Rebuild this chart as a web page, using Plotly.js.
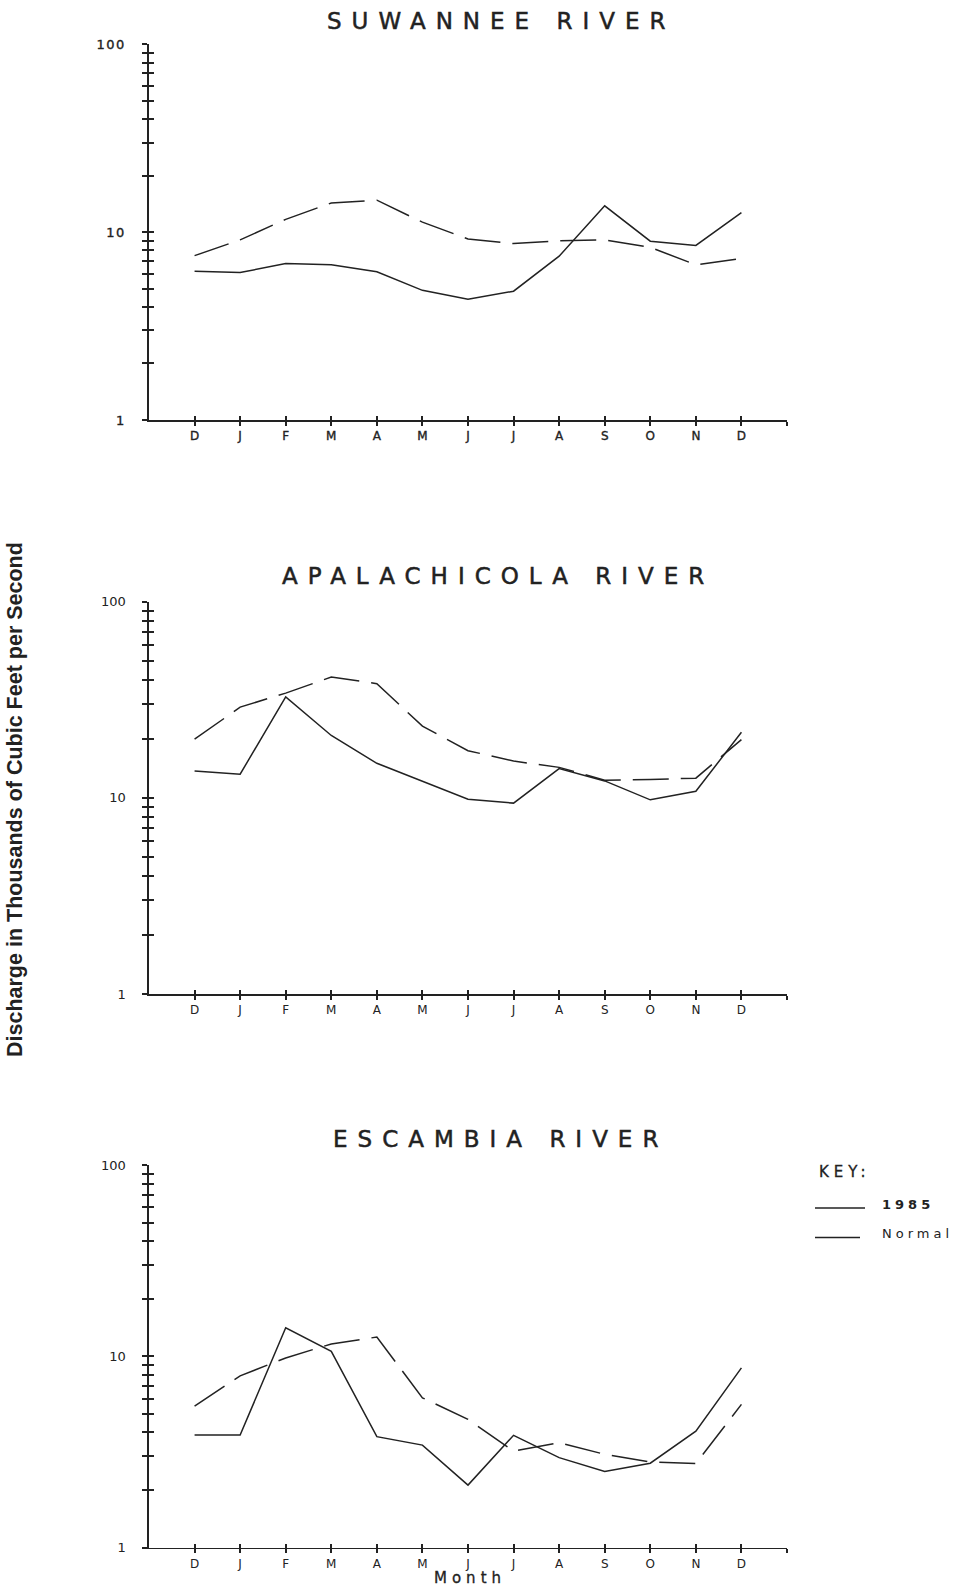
<!DOCTYPE html>
<html>
<head>
<meta charset="utf-8">
<script src="https://cdn.plot.ly/plotly-3.0.1.min.js"></script>
<style>
  html, body { margin: 0; padding: 0; background: #fff; }
  #chart { width: 960px; height: 1588px; }
  .ytick text { letter-spacing: 1.5px; stroke: #222; stroke-width: 0.35px; }
  .xtick text { stroke: #222; stroke-width: 0.35px; }
</style>
</head>
<body>
<div id="chart"></div>
<script>
// Month labels along the bottom of each river panel (Dec 1984 .. Dec 1985)
const months = ['D', 'J', 'F', 'M', 'A', 'M', 'J', 'J', 'A', 'S', 'O', 'N', 'D'];

// Monthly mean discharge, thousands of cubic feet per second
const suwannee1985       = [6.2, 6.1, 6.8, 6.7, 6.15, 4.9, 4.4, 4.85, 7.45, 13.8, 8.95, 8.5, 12.7];
const suwanneeNormal     = [7.5, 9.1, 11.7, 14.3, 14.8, 11.3, 9.2, 8.7, 9.0, 9.1, 8.3, 6.7, 7.25];
const apalachicola1985   = [13.7, 13.2, 32.7, 20.8, 15.0, 12.1, 9.85, 9.4, 14.1, 12.2, 9.77, 10.8, 21.6];
const apalachicolaNormal = [19.9, 29, 34.2, 41.3, 38.2, 23.2, 17.4, 15.4, 14.3, 12.3, 12.4, 12.6, 19.8];
const escambia1985       = [3.87, 3.87, 14.1, 10.6, 3.8, 3.43, 2.12, 3.86, 2.95, 2.5, 2.76, 4.06, 8.7];
const escambiaNormal     = [5.48, 7.9, 9.8, 11.6, 12.6, 6.06, 4.68, 3.19, 3.53, 3.07, 2.8, 2.75, 5.6];

// Log-scale tick marks: every integer step within each decade
const yTickValues = [1, 2, 3, 4, 5, 6, 7, 8, 9, 10, 20, 30, 40, 50, 60, 70, 80, 90, 100];
const yTickLabels = ['1', '', '', '', '', '', '', '', '', '10', '', '', '', '', '', '', '', '', '100'];

const seriesNames = ['1985', 'Normal'];
const riverTitles = ['SUWANNEE RIVER', 'APALACHICOLA RIVER', 'ESCAMBIA RIVER'];
const riverData = [
  [suwannee1985, suwanneeNormal],
  [apalachicola1985, apalachicolaNormal],
  [escambia1985, escambiaNormal]
];

const W = 960, H = 1588;
const px = x => x / W;
const py = y => 1 - y / H;

const INK = '#222222';
const plotFont = 'DejaVu Sans, sans-serif';

// Pixel frame of each panel: top (value 100) and bottom (value 1)
const frames = [
  { top: 44.3,  bottom: 420,    titleX: 501, titleY: 21 },
  { top: 601.7, bottom: 994,    titleX: 498, titleY: 576 },
  { top: 1165,  bottom: 1547.5, titleX: 500, titleY: 1139 }
];
const xLeft = 149, xRight = 787;

const monthIndex = months.map((_, i) => i);
const xTickVals = monthIndex.concat([months.length]);
const xTickText = months.concat(['']);

const traces = [];
const layout = {
  width: W, height: H,
  margin: { l: 0, r: 0, t: 0, b: 0 },
  paper_bgcolor: '#fff', plot_bgcolor: 'rgba(0,0,0,0)',
  showlegend: false,
  font: { family: plotFont, color: INK },
  annotations: [],
  shapes: []
};

frames.forEach((f, i) => {
  const n = i + 1, o = i + 4;
  const xs = n === 1 ? '' : String(n);
  const xName = 'x' + xs, yName = 'y' + xs;

  const [s1985, sNormal] = riverData[i];
  traces.push({
    x: monthIndex, y: s1985, name: seriesNames[0], type: 'scatter', mode: 'lines',
    xaxis: xName, yaxis: yName,
    line: { color: INK, width: 1.5 }
  });
  traces.push({
    x: monthIndex, y: sNormal, name: seriesNames[1], type: 'scatter', mode: 'lines',
    xaxis: xName, yaxis: yName,
    line: { color: INK, width: 1.5, dash: '36px,12px' }
  });
  // empty trace that brings up the inner half of the crossing tick marks
  traces.push({
    x: [null], y: [null], type: 'scatter', mode: 'lines', hoverinfo: 'skip',
    xaxis: 'x' + o, yaxis: 'y' + o
  });

  const dom = [py(f.bottom), py(f.top)];
  const xBase = {
    range: [-1, 13], tickmode: 'array', tickvals: xTickVals,
    ticklen: 4, tickwidth: 2, tickcolor: INK,
    showgrid: false, zeroline: false
  };
  const yBase = {
    type: 'log', range: [0, 2], tickmode: 'array', tickvals: yTickValues,
    ticklen: 5, tickwidth: 2, tickcolor: INK,
    showgrid: false, zeroline: false
  };

  layout['xaxis' + xs] = Object.assign({}, xBase, {
    domain: [px(xLeft), px(xRight)], anchor: yName,
    ticks: 'outside', ticktext: xTickText,
    showline: true, linecolor: INK, linewidth: 1.6,
    tickfont: { family: plotFont, size: 12, color: INK },
    ticklabelstandoff: 0
  });
  layout['yaxis' + xs] = Object.assign({}, yBase, {
    domain: dom, anchor: xName,
    ticks: 'outside', ticktext: yTickLabels,
    showline: true, linecolor: INK, linewidth: 1.6,
    tickfont: { family: plotFont, size: 13, color: INK },
    ticklabelstandoff: 14
  });
  layout['xaxis' + o] = Object.assign({}, xBase, {
    overlaying: xName, anchor: yName, ticks: 'inside',
    showticklabels: false, showline: false
  });
  layout['yaxis' + o] = Object.assign({}, yBase, {
    overlaying: yName, anchor: xName, ticks: 'inside',
    showticklabels: false, showline: false
  });

  layout.annotations.push({
    text: '<span style="letter-spacing:10px;stroke:#222;stroke-width:0.5px">' + riverTitles[i] + '</span>',
    xref: 'paper', yref: 'paper', x: px(f.titleX), y: py(f.titleY),
    xanchor: 'center', yanchor: 'middle', showarrow: false,
    font: { family: plotFont, size: 23, color: INK }
  });
});

// Shared axis titles
layout.annotations.push({
  text: 'Discharge in Thousands of Cubic Feet per Second',
  xref: 'paper', yref: 'paper', x: px(15), y: py(800),
  xanchor: 'center', yanchor: 'middle', textangle: -90, showarrow: false,
  font: { family: 'Liberation Sans, Arial, sans-serif', size: 21.5, color: INK, weight: 'bold' }
});
layout.annotations.push({
  text: '<span style="letter-spacing:5px;stroke:#222;stroke-width:0.3px">Month</span>',
  xref: 'paper', yref: 'paper', x: px(470), y: py(1578),
  xanchor: 'center', yanchor: 'middle', showarrow: false,
  font: { family: plotFont, size: 15, color: INK }
});

// Key
layout.annotations.push({
  text: '<span style="letter-spacing:5px;stroke:#222;stroke-width:0.3px">KEY:</span>',
  xref: 'paper', yref: 'paper', x: px(817), y: py(1172),
  xanchor: 'left', yanchor: 'middle', showarrow: false,
  font: { family: plotFont, size: 15, color: INK }
});
const keyRows = [
  { y: 1204, lineY: 1208, lineEnd: 865 },
  { y: 1233, lineY: 1237.5, lineEnd: 860 }
];
keyRows.forEach((k, j) => {
  layout.annotations.push({
    text: '<span style="letter-spacing:4px">' + seriesNames[j] + '</span>',
    xref: 'paper', yref: 'paper', x: px(880), y: py(k.y),
    xanchor: 'left', yanchor: 'middle', showarrow: false,
    font: { family: plotFont, size: 13, color: INK, weight: j === 0 ? 'bold' : 'normal' }
  });
  layout.shapes.push({
    type: 'line', xref: 'paper', yref: 'paper',
    x0: px(815), x1: px(k.lineEnd), y0: py(k.lineY), y1: py(k.lineY),
    line: { color: INK, width: 1.4 }
  });
});

Plotly.newPlot('chart', traces, layout, { staticPlot: true, displayModeBar: false });
</script>
</body>
</html>
